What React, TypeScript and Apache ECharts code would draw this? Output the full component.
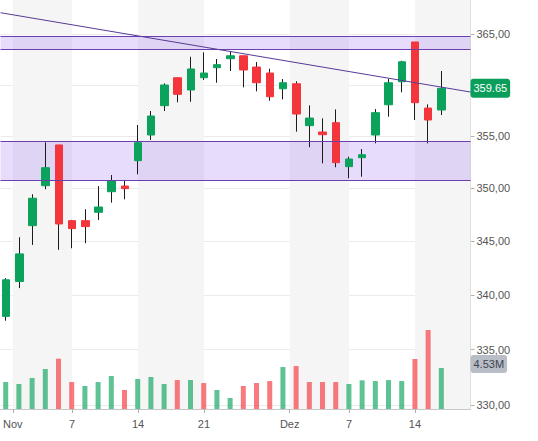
import React, { useEffect, useRef } from 'react';
import * as echarts from 'echarts';

const dates = [
  '2022-10-31', '2022-11-01', '2022-11-02', '2022-11-03', '2022-11-04',
  '2022-11-07', '2022-11-08', '2022-11-09', '2022-11-10', '2022-11-11',
  '2022-11-14', '2022-11-15', '2022-11-16', '2022-11-17', '2022-11-18',
  '2022-11-21', '2022-11-22', '2022-11-23', '2022-11-25', '2022-11-28',
  '2022-11-29', '2022-11-30', '2022-12-01', '2022-12-02', '2022-12-05',
  '2022-12-06', '2022-12-07', '2022-12-08', '2022-12-09', '2022-12-12',
  '2022-12-13', '2022-12-14', '2022-12-15', '2022-12-16',
];
const opens = [338.04, 341.26, 346.48, 350.26, 354.16, 346.95, 346.95, 347.74, 349.69, 350.23, 352.65, 355.12, 357.96, 360.69, 359.49, 360.69, 361.67, 362.56, 362.85, 361.74, 361.15, 359.61, 360.1, 356.02, 355.41, 356.31, 352.08, 352.94, 355.12, 358.05, 360.3, 364.21, 357.73, 357.54];
const closes = [341.42, 343.83, 349.07, 351.98, 346.64, 346.2, 346.39, 348.24, 350.71, 349.98, 354.38, 356.96, 359.98, 359.07, 361.55, 361.15, 361.97, 362.85, 361.45, 360.2, 358.83, 360.2, 357.15, 356.76, 355.15, 352.46, 352.81, 353.22, 357.28, 360.2, 362.26, 358.25, 356.57, 359.65];
const lows = [337.64, 340.65, 344.67, 349.92, 344.21, 344.36, 344.83, 347.02, 348.65, 348.97, 351.35, 354.64, 357.44, 358.29, 358.34, 360.47, 360.2, 361.35, 359.75, 359.36, 358.44, 358.58, 355.44, 353.94, 352.4, 352.02, 350.97, 351.12, 354.32, 356.89, 359.26, 356.57, 354.32, 357.05];
const highs = [341.57, 345.39, 349.45, 354.42, 354.16, 347.02, 348.03, 350.23, 351.28, 350.81, 356.09, 357.44, 360.14, 360.69, 362.75, 363.19, 362.53, 363.32, 362.85, 362.23, 361.57, 360.56, 360.34, 357.99, 356.73, 357.6, 353.03, 353.77, 357.63, 360.56, 362.36, 364.21, 358.09, 361.35];
const volumes = [2.98, 2.76, 3.43, 4.42, 5.56, 2.98, 2.54, 2.98, 3.65, 2.1, 3.32, 3.54, 2.76, 3.2, 3.2, 2.87, 2.1, 1.22, 2.54, 2.87, 3.09, 4.64, 4.75, 2.98, 2.98, 2.98, 2.76, 3.17, 3.09, 3.2, 3.09, 5.53, 8.73, 4.53];

const yTicks = [330, 335, 340, 345, 350, 355, 360, 365];
const bands = [
  [363.46, 364.75],
  [350.74, 354.52],
];
const trendFrom = 367.12;
const trendTo = 359.29;
const lastPrice = 359.65;
const lastVolumeText = '4.53M';
const monthNames = ['Jan', 'Feb', 'Mär', 'Apr', 'Mai', 'Jun', 'Jul', 'Aug', 'Sep', 'Okt', 'Nov', 'Dez'];
const labelledDays = [7, 14, 21];

const X_MIN = -0.432;
const X_MAX = 35.21;
const Y_MIN = 329.64;
const Y_MAX = 368.39;

const GREEN = '#0ba25c';
const RED = '#f4353c';
const WICK = '#1c1c1c';
const BAND_FILL = 'rgba(140, 80, 240, 0.2)';
const BAND_LINE = '#6a3fae';
const TREND = '#573a96';
const FONT = 'Arial, "Liberation Sans", Helvetica, sans-serif';
const INVISIBLE = 'rgba(0,0,0,0)';

function buildTicks() {
  const pos: number[] = [];
  const txt: string[] = [];
  dates.forEach((d, i) => {
    const [, m, day] = d.split('-').map(Number);
    const prevM = i > 0 ? Number(dates[i - 1].split('-')[1]) : m;
    if (i > 0 && m !== prevM) {
      pos.push(i - 0.5);
      txt.push(monthNames[m - 1]);
    } else if (labelledDays.includes(day)) {
      pos.push(i);
      txt.push(String(day));
    }
  });
  return { pos, txt };
}

export default function App() {
  const ref = useRef<HTMLDivElement>(null);
  useEffect(() => {
    document.body.style.margin = '0';
    if (!ref.current) return;
    const chart = echarts.init(ref.current, undefined, { renderer: 'svg' });
    const { pos, txt } = buildTicks();
    const labelMap: Record<string, string> = {};
    pos.forEach((p, i) => (labelMap[String(p)] = txt[i]));
    // the last-price badge hides the tick label it sits on
    const yLabelTicks = yTicks.filter((t) => Math.abs(t - lastPrice) > 1);

    const stripes: any[] = [];
    for (let k = 0; k < pos.length; k += 2) {
      const end = k + 1 < pos.length ? pos[k + 1] : X_MAX;
      stripes.push([{ xAxis: pos[k] }, { xAxis: end }]);
    }

    const wickData = dates.map((_, i) => [i, opens[i], closes[i], lows[i], highs[i]]);
    const bodyData = dates.map((_, i) => [
      i, opens[i], closes[i], Math.min(opens[i], closes[i]), Math.max(opens[i], closes[i]),
    ]);
    const volData = dates.map((_, i) => {
      const up = i === 0 ? closes[i] >= opens[i] : closes[i] >= closes[i - 1];
      return { value: [i, volumes[i]], itemStyle: { color: up ? GREEN : RED, opacity: 0.66 } };
    });

    const bandLines: any[] = [];
    bands.forEach((b) => {
      bandLines.push({ yAxis: b[0] });
      bandLines.push({ yAxis: b[1] });
    });

    const hiddenAxis = {
      show: false,
      axisLine: { show: false, onZero: false },
      axisTick: { show: false },
      axisLabel: { show: false },
      splitLine: { show: false },
      splitArea: { show: false },
    };

    chart.setOption({
      animation: false,
      backgroundColor: '#ffffff',
      grid: [
        { left: 0, right: 67.5, top: 0, bottom: 32 },
        { left: 0, right: 67.5, top: 300, bottom: 32 },
      ],
      xAxis: [
        {
          type: 'value',
          gridIndex: 0,
          min: X_MIN,
          max: X_MAX,
          splitLine: { show: false },
          splitArea: { show: false },
          axisLine: { show: true, onZero: false, lineStyle: { color: '#c8c8c8' } },
          axisTick: { show: true, length: 4, customValues: pos, lineStyle: { color: '#b0b0b0' } },
          axisLabel: {
            customValues: pos,
            formatter: (v: number) => labelMap[String(v)] ?? '',
            color: '#555555',
            fontSize: 11,
            fontFamily: FONT,
            margin: 9,
          },
        },
        {
          type: 'value',
          gridIndex: 1,
          min: X_MIN,
          max: X_MAX,
          ...hiddenAxis,
        },
      ],
      yAxis: [
        {
          type: 'log',
          logBase: 10,
          gridIndex: 0,
          position: 'right',
          min: Y_MIN,
          max: Y_MAX,
          axisLine: { show: true, onZero: false, lineStyle: { color: '#c8c8c8' } },
          axisTick: { show: true, length: 4, customValues: yTicks, lineStyle: { color: '#b0b0b0' } },
          splitLine: { show: true, lineStyle: { color: '#ebebeb' } },
          axisLabel: {
            customValues: yLabelTicks,
            formatter: (v: number) => v.toFixed(2).replace('.', ','),
            color: '#555555',
            fontSize: 11,
            fontFamily: FONT,
            margin: 6,
          },
        },
        {
          type: 'value',
          gridIndex: 1,
          min: 0,
          max: 12.05,
          ...hiddenAxis,
        },
      ],
      series: [
        {
          type: 'line',
          name: 'stripes',
          xAxisIndex: 0,
          yAxisIndex: 0,
          data: [],
          z: -1,
          silent: true,
          markArea: {
            silent: true,
            itemStyle: { color: '#f5f5f5' },
            data: stripes,
          },
        },
        {
          type: 'bar',
          name: 'volume',
          xAxisIndex: 1,
          yAxisIndex: 1,
          barWidth: 5,
          data: volData,
          z: 6,
          markLine: {
            silent: true,
            symbol: 'none',
            lineStyle: { color: INVISIBLE, width: 0 },
            label: {
              show: true,
              position: 'end',
              distance: 0,
              offset: [0, -4],
              formatter: lastVolumeText,
              backgroundColor: '#b9bdc5',
              color: '#3e4450',
              borderRadius: 3,
              padding: [4, 3, 3, 3],
              fontSize: 11,
              fontFamily: FONT,
            },
            data: [{ yAxis: volumes[volumes.length - 1] }],
          },
        },
        {
          type: 'candlestick',
          name: 'wicks',
          xAxisIndex: 0,
          yAxisIndex: 0,
          barWidth: 1,
          encode: { x: 0, y: [1, 2, 3, 4] },
          itemStyle: { color: WICK, color0: WICK, borderColor: WICK, borderColor0: WICK, borderWidth: 1 },
          data: wickData,
        },
        {
          type: 'candlestick',
          name: 'bodies',
          xAxisIndex: 0,
          yAxisIndex: 0,
          barWidth: 8,
          encode: { x: 0, y: [1, 2, 3, 4] },
          itemStyle: { color: GREEN, color0: RED, borderColor: GREEN, borderColor0: RED, borderWidth: 1 },
          data: bodyData,
        },
        {
          type: 'line',
          name: 'bands',
          xAxisIndex: 0,
          yAxisIndex: 0,
          data: [],
          z: 5,
          silent: true,
          markArea: {
            silent: true,
            itemStyle: { color: BAND_FILL },
            data: bands.map((b) => [{ yAxis: b[0] }, { yAxis: b[1] }]),
          },
          markLine: {
            silent: true,
            symbol: 'none',
            label: { show: false },
            lineStyle: { color: BAND_LINE, width: 1, type: 'solid' },
            data: [
              ...bandLines,
              [
                { coord: [X_MIN, trendFrom], lineStyle: { color: TREND, width: 1, type: 'solid' } },
                { coord: [X_MAX, trendTo] },
              ],
            ],
          },
        },
        {
          type: 'line',
          name: 'last',
          xAxisIndex: 0,
          yAxisIndex: 0,
          data: [],
          z: 7,
          silent: true,
          markLine: {
            silent: true,
            symbol: 'none',
            lineStyle: { color: INVISIBLE, width: 0 },
            label: {
              show: true,
              position: 'end',
              distance: 0,
              formatter: lastPrice.toFixed(2),
              backgroundColor: '#0b9e5b',
              color: '#ffffff',
              borderRadius: 3,
              padding: [4, 3, 4, 3],
              fontSize: 11,
              fontFamily: FONT,
            },
            data: [{ yAxis: lastPrice }],
          },
        },
      ],
    });
    return () => chart.dispose();
  }, []);
  return (
    <div
      ref={ref}
      style={{ position: 'absolute', left: 0, top: 0, width: 538, height: 441, background: '#fff' }}
    />
  );
}
